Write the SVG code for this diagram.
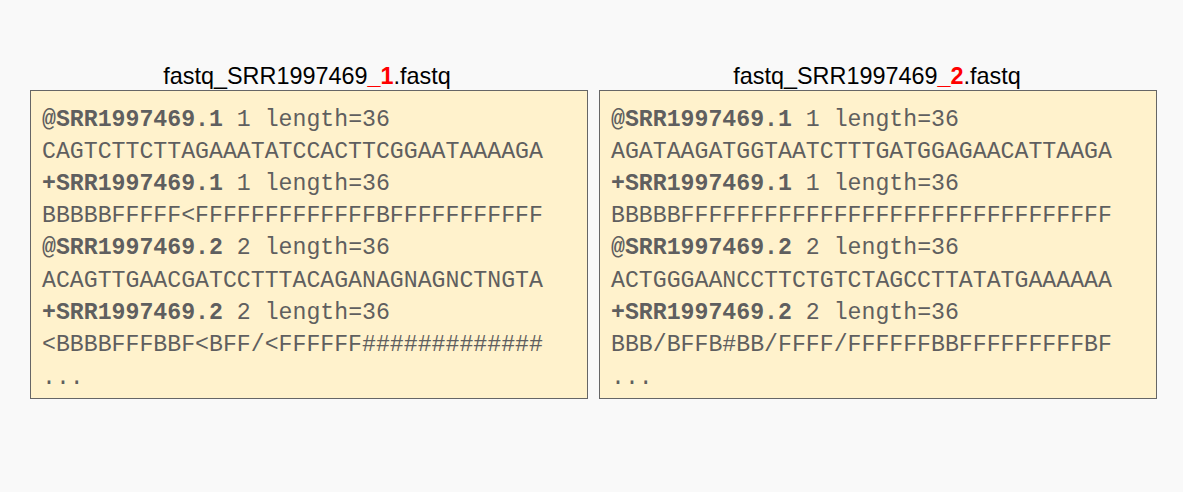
<svg xmlns="http://www.w3.org/2000/svg" width="1183" height="492" viewBox="0 0 1183 492">
<style>
.bg{fill:#f9f9f9}
.box{fill:#fff2cc;stroke:#666666;stroke-width:1}
.title{font-family:"Liberation Sans",Arial,sans-serif;font-size:23.4px;fill:#000000;text-anchor:middle}
.red{fill:#ff0000;font-weight:bold}
.code{font-family:"Courier New","Nimbus Mono PS","Nimbus Mono L","FreeMono",Courier,"Liberation Mono",monospace;font-size:23.2px;fill:#5f5f5f}
.b{font-weight:bold}
</style>
<rect class="bg" x="0" y="0" width="1183" height="492"/>
<g id="file1">
<text class="title" x="307" y="84">fastq_SRR1997469<tspan class="red">_1</tspan>.fastq</text>
<rect class="box" x="30.5" y="90.5" width="557" height="308"/>
<text class="code" x="42" y="126"><tspan class="b">@SRR1997469.1</tspan> 1 length=36</text>
<text class="code" x="42" y="158">CAGTCTTCTTAGAAATATCCACTTCGGAATAAAAGA</text>
<text class="code" x="42" y="190"><tspan class="b">+SRR1997469.1</tspan> 1 length=36</text>
<text class="code" x="42" y="222">BBBBBFFFFF&lt;FFFFFFFFFFFFFBFFFFFFFFFFF</text>
<text class="code" x="42" y="254"><tspan class="b">@SRR1997469.2</tspan> 2 length=36</text>
<text class="code" x="42" y="287">ACAGTTGAACGATCCTTTACAGANAGNAGNCTNGTA</text>
<text class="code" x="42" y="319"><tspan class="b">+SRR1997469.2</tspan> 2 length=36</text>
<text class="code" x="42" y="351">&lt;BBBBFFFBBF&lt;BFF/&lt;FFFFFF#############</text>
<text class="code" x="42" y="384">...</text>
</g>
<g id="file2">
<text class="title" x="877" y="84">fastq_SRR1997469<tspan class="red">_2</tspan>.fastq</text>
<rect class="box" x="599.5" y="90.5" width="557" height="308"/>
<text class="code" x="611" y="126"><tspan class="b">@SRR1997469.1</tspan> 1 length=36</text>
<text class="code" x="611" y="158">AGATAAGATGGTAATCTTTGATGGAGAACATTAAGA</text>
<text class="code" x="611" y="190"><tspan class="b">+SRR1997469.1</tspan> 1 length=36</text>
<text class="code" x="611" y="222">BBBBBFFFFFFFFFFFFFFFFFFFFFFFFFFFFFFF</text>
<text class="code" x="611" y="254"><tspan class="b">@SRR1997469.2</tspan> 2 length=36</text>
<text class="code" x="611" y="287">ACTGGGAANCCTTCTGTCTAGCCTTATATGAAAAAA</text>
<text class="code" x="611" y="319"><tspan class="b">+SRR1997469.2</tspan> 2 length=36</text>
<text class="code" x="611" y="351">BBB/BFFB#BB/FFFF/FFFFFFBBFFFFFFFFFBF</text>
<text class="code" x="611" y="384">...</text>
</g>
<g id="connectors"></g>
</svg>
